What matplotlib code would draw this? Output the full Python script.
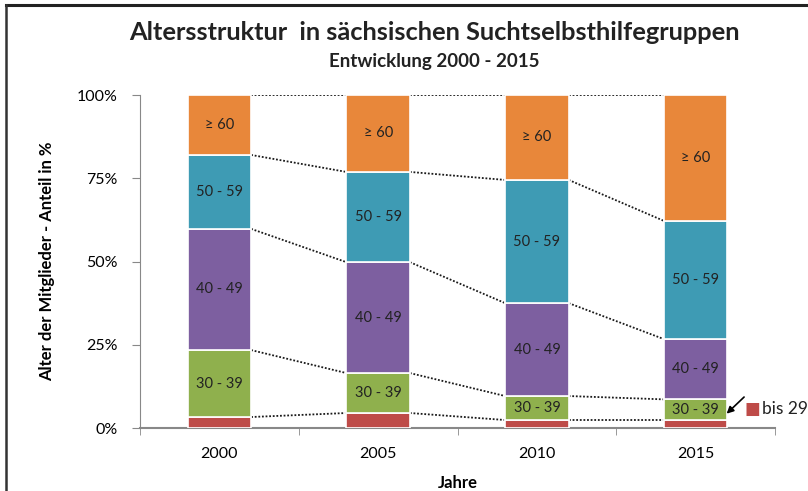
import numpy as np
import matplotlib.pyplot as plt
from matplotlib.lines import Line2D

plt.rcParams['font.family'] = ['Lato', 'DejaVu Sans']

jahre = ['2000', '2005', '2010', '2015']
gruppen = ['bis 29', '30 - 39', '40 - 49', '50 - 59', '\u2265 60']
bis29 = [3.3, 4.5, 2.4, 2.4]
g30_39 = [20.1, 12.0, 7.2, 6.2]
g40_49 = [36.4, 33.3, 27.9, 18.1]
g50_59 = [22.2, 27.1, 37.0, 35.5]
ab60 = [18.0, 23.1, 25.5, 37.8]
farben = ['#BE4B48', '#8FB04D', '#7D5FA0', '#3E9BB4', '#E8873A']

werte = np.array([bis29, g30_39, g40_49, g50_59, ab60])

fig = plt.figure(figsize=(8.08, 4.91), dpi=100)
ax = fig.add_axes([0.1733, 0.1283, 0.7859, 0.6782])

x = np.arange(len(jahre))
bw = 0.4
bottom = np.zeros(len(jahre))
for k, (vals, col) in enumerate(zip(werte, farben)):
    ax.bar(x, vals, bw, bottom=bottom, color=col, edgecolor='white', linewidth=1.2, zorder=3)
    if k > 0:
        for i in range(len(jahre)):
            ax.text(x[i], bottom[i] + vals[i] / 2, gruppen[k], ha='center', va='center',
                    fontsize=10.5, color='#222222', zorder=4)
    bottom = bottom + vals
    # Verbindungslinien zwischen den Säulen
    for i in range(len(jahre) - 1):
        ax.plot([x[i] + bw / 2, x[i + 1] - bw / 2], [bottom[i], bottom[i + 1]],
                color='#1a1a1a', linestyle=(0, (1, 1)), linewidth=1.3, zorder=2)

ax.set_xlim(-0.5, 3.5)
ax.set_ylim(0, 100)
ax.set_yticks([0, 25, 50, 75, 100])
ax.set_yticklabels(['0%', '25%', '50%', '75%', '100%'], fontsize=11.5)
ax.set_xticks(x)
ax.set_xticklabels(jahre, fontsize=11.5)
ax.set_xticks([-0.5, 0.5, 1.5, 2.5, 3.5], minor=True)
ax.tick_params(axis='x', which='major', length=0, pad=14)
ax.tick_params(axis='x', which='minor', length=5, color='#888888')
ax.tick_params(axis='y', length=6, color='#888888', pad=10)
for s in ['top', 'right']:
    ax.spines[s].set_visible(False)
ax.spines['left'].set_color('#888888')
ax.spines['bottom'].set_color('#888888')
ax.spines['bottom'].set_linewidth(1.5)

ax.set_xlabel('Jahre', fontsize=12, fontweight='bold', labelpad=10)
ax.set_ylabel('Alter der Mitglieder - Anteil in %', fontsize=12, fontweight='bold', labelpad=16)

fig.text(0.538, 0.933, 'Altersstruktur  in s\u00e4chsischen Suchtselbsthilfegruppen',
         ha='center', va='center', fontsize=18.3, fontweight='bold', color='#222222')
fig.text(0.538, 0.874, 'Entwicklung 2000 - 2015', ha='center', va='center',
         fontsize=13.5, fontweight='bold', color='#222222')

# Legende für "bis 29" mit Pfeil
ax.annotate('', xy=(3.195, 4.3), xytext=(3.305, 9.3),
            arrowprops=dict(arrowstyle='-|>', color='black', lw=1.2, mutation_scale=10,
                            shrinkA=0, shrinkB=0),
            annotation_clip=False)
ax.text(3.31, 5.8, '\u25a0', color=farben[0], fontsize=12, va='center', ha='left')
ax.text(3.415, 5.8, gruppen[0], color='#222222', fontsize=12.5, va='center', ha='left')

# Rahmen oben und links
fig.add_artist(Line2D([0.007, 1.0], [0.990, 0.990], color='#222222', lw=2.2, transform=fig.transFigure))
fig.add_artist(Line2D([0.007, 0.007], [0.0, 0.990], color='#333333', lw=1.8, transform=fig.transFigure))

fig.savefig('out.png', dpi=100)
